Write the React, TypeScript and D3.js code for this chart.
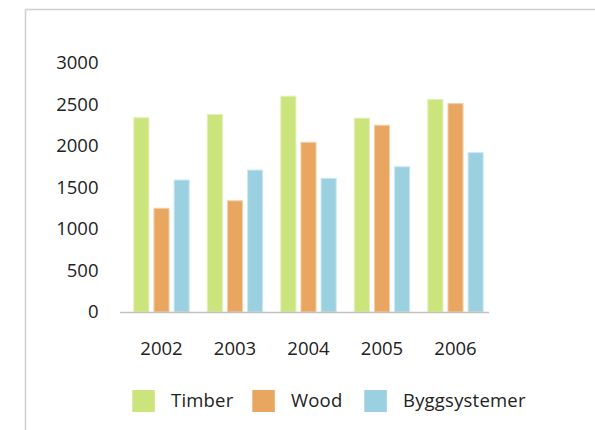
import React from "react";
import * as d3 from "d3";

const years = ["2002", "2003", "2004", "2005", "2006"];
const seriesNames = ["Timber", "Wood", "Byggsystemer"];
const timber = [2340, 2380, 2600, 2335, 2560];
const wood = [1250, 1340, 2045, 2250, 2510];
const bygg = [1590, 1710, 1610, 1750, 1920];
const yTicks = [0, 500, 1000, 1500, 2000, 2500, 3000];
const colors = ["#cce47c", "#e8a661", "#9ad0e0"];
const strokes = ["#e2f0b8", "#f4d0ab", "#cbe8f0"];

export default function App() {
  const W = 595, H = 430;
  const font = "'Open Sans', 'Noto Sans', sans-serif";
  const fs = 18.5;
  const x = d3.scaleBand<string>().domain(years).range([124.75, 492.25]).paddingInner(0.233).paddingOuter(0.1165);
  const xi = d3.scaleBand<string>().domain(seriesNames).range([0, x.bandwidth()]).paddingInner(0.2);
  const y = d3.scaleLinear().domain([0, 3000]).range([312, 63]);
  const series = [timber, wood, bygg];

  return (
    <svg width={W} height={H} style={{ position: "absolute", left: 0, top: 0, background: "#fff" }}>
      <rect x={0} y={0} width={W} height={H} fill="#fff" />
      <line x1={25.5} y1={9.5} x2={W} y2={9.5} stroke="#cfcfcf" strokeWidth={1.5} />
      <line x1={25.5} y1={9.5} x2={25.5} y2={H} stroke="#cfcfcf" strokeWidth={1.5} />
      {yTicks.map((t) => (
        <text key={t} x={98.5} y={y(t)} dy="0.35em" textAnchor="end" fontFamily={font} fontSize={fs} fill="#222">
          {t}
        </text>
      ))}
      {years.map((yr, i) => (
        <g key={yr} transform={`translate(${x(yr)},0)`}>
          {series.map((s, k) => (
            <rect
              key={k}
              x={(xi(seriesNames[k]) as number) + 0.5}
              y={y(s[i])}
              width={xi.bandwidth() - 1}
              height={y(0) - y(s[i])}
              fill={colors[k]}
              stroke={strokes[k]}
              strokeWidth={1}
            />
          ))}
          <text x={x.bandwidth() / 2} y={354.5} textAnchor="middle" fontFamily={font} fontSize={fs} fill="#222">
            {yr}
          </text>
        </g>
      ))}
      <line x1={120} y1={312.5} x2={489} y2={312.5} stroke="#c4c0bc" strokeWidth={1.5} />
      {seriesNames.map((n, k) => {
        const lx = [132.3, 252.3, 364.3][k];
        return (
          <g key={n}>
            <rect x={lx} y={390} width={22.5} height={22} fill={colors[k]} />
            <text x={lx + 38.7} y={407} fontFamily={font} fontSize={fs} letterSpacing={0.2} fill="#222">
              {n}
            </text>
          </g>
        );
      })}
    </svg>
  );
}
